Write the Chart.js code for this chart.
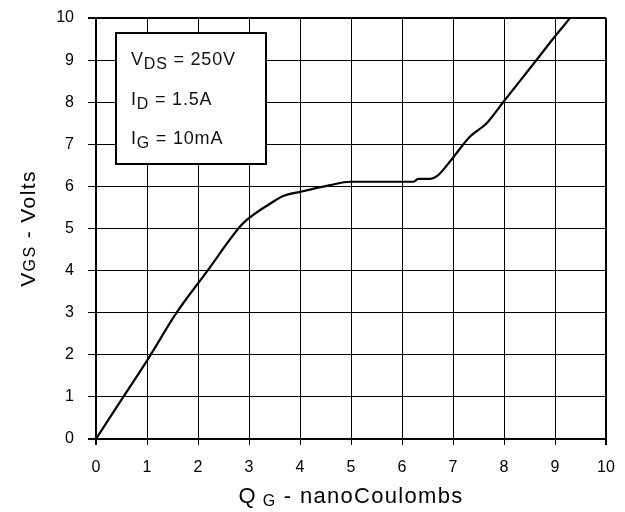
<!DOCTYPE html>
<html>
<head>
<meta charset="utf-8">
<script src="https://cdn.jsdelivr.net/npm/chart.js@4"></script>
<style>
  html, body { margin: 0; padding: 0; background: #fff; }
  #wrap { width: 625px; height: 512px; position: relative; }
</style>
</head>
<body>
<div id="wrap"><canvas id="c" width="625" height="512"></canvas></div>
<script>
// Gate charge (nC) and gate-source voltage (V)
const gateCharge = [0, 0.535, 1.01, 1.58, 2.17, 2.82, 2.95, 3.48, 3.67, 4.0, 4.59, 4.98, 6.22, 6.32, 6.54, 6.71, 6.94, 7.33, 7.66, 7.99, 8.61, 8.97, 9.29];
const gateVoltage = [0, 1.0, 1.88, 3.0, 3.97, 5.04, 5.2, 5.64, 5.77, 5.87, 6.03, 6.11, 6.11, 6.18, 6.18, 6.27, 6.59, 7.18, 7.5, 8.01, 8.96, 9.52, 9.99];
const xTickValues = [0, 1, 2, 3, 4, 5, 6, 7, 8, 9, 10];
const yTickValues = [0, 1, 2, 3, 4, 5, 6, 7, 8, 9, 10];
const xTitleParts = [["Q", false], [" G", true], [" - nanoCoulombs", false]];
const yTitleParts = [["V", false], ["GS", true], [" - Volts", false]];
const conditionLines = [
  [["V", false], ["DS", true], [" = 250V", false]],
  [["I", false], ["D", true], [" = 1.5A", false]],
  [["I", false], ["G", true], [" = 10mA", false]]
];

const FONT = '"Liberation Sans", Arial, sans-serif';

const points = gateCharge.map((x, i) => ({ x: x, y: gateVoltage[i] }));

function drawParts(ctx, parts, x, y, mainSize, subSize, subDrop, spacing) {
  ctx.letterSpacing = spacing + 'px';
  let cx = x;
  parts.forEach(([t, sub]) => {
    ctx.font = (sub ? subSize : mainSize) + 'px ' + FONT;
    ctx.fillText(t, cx, y + (sub ? subDrop : 0));
    cx += ctx.measureText(t).width;
  });
  return cx - x;
}
function measureParts(ctx, parts, mainSize, subSize, spacing) {
  ctx.letterSpacing = spacing + 'px';
  let w = 0;
  parts.forEach(([t, sub]) => {
    ctx.font = (sub ? subSize : mainSize) + 'px ' + FONT;
    w += ctx.measureText(t).width;
  });
  return w;
}

const decor = {
  id: 'decor',
  afterDatasetsDraw(chart) {
    const ctx = chart.ctx;
    const a = chart.chartArea;
    ctx.save();
    // condition box
    const bx = 116, by = 33;
    const bw = 150, bh = 131;
    ctx.fillStyle = '#fff';
    ctx.fillRect(bx, by, bw, bh);
    ctx.strokeStyle = '#000';
    ctx.lineWidth = 2;
    ctx.strokeRect(bx, by, bw, bh);
    ctx.fillStyle = '#111';
    ctx.textBaseline = 'alphabetic';
    ctx.textAlign = 'left';
    conditionLines.forEach((parts, i) => {
      drawParts(ctx, parts, bx + 15, by + 32 + i * 39.5, 18, 16, 4, 0.8);
    });
    ctx.restore();

    // x title
    ctx.save();
    ctx.fillStyle = '#000';
    ctx.textBaseline = 'alphabetic';
    const xw = measureParts(ctx, xTitleParts, 22, 16, 1.3);
    drawParts(ctx, xTitleParts, (a.left + a.right) / 2 - xw / 2, 503, 22, 16, 3, 1.3);
    ctx.restore();

    // y title
    ctx.save();
    ctx.fillStyle = '#000';
    ctx.textBaseline = 'alphabetic';
    ctx.translate(35, (a.top + a.bottom) / 2);
    ctx.rotate(-Math.PI / 2);
    const yw = measureParts(ctx, yTitleParts, 21, 16, 1.4);
    drawParts(ctx, yTitleParts, -yw / 2, 0, 21, 16, 0, 1.4);
    ctx.restore();
  }
};

function zeroPad(s) { s.paddingTop = 0; s.paddingBottom = 0; s.paddingLeft = 0; s.paddingRight = 0; }

new Chart(document.getElementById('c'), {
  type: 'line',
  data: {
    datasets: [{
      data: points,
      borderColor: '#000',
      borderWidth: 2.2,
      pointRadius: 0,
      cubicInterpolationMode: 'monotone',
      fill: false
    }]
  },
  options: {
    responsive: false,
    animation: false,
    devicePixelRatio: 1,
    layout: { padding: { left: 0, top: 18, right: 19, bottom: 0 } },
    plugins: { legend: { display: false }, tooltip: { enabled: false } },
    scales: {
      x: {
        type: 'linear',
        min: 0, max: 10,
        afterBuildTicks(s) { s.ticks = xTickValues.map(v => ({ value: v })); },
        afterFit(s) { s.height = 73; zeroPad(s); },
        ticks: { color: '#000', font: { family: FONT, size: 16 }, padding: 13, maxRotation: 0 },
        grid: {
          color: '#000',
          lineWidth: c => (c.tick && (c.tick.value === 10 || c.tick.value === 0)) ? 2 : 1,
          tickLength: 6
        },
        border: { color: '#000', width: 2 }
      },
      y: {
        type: 'linear',
        min: 0, max: 10,
        afterBuildTicks(s) { s.ticks = yTickValues.map(v => ({ value: v })); },
        afterFit(s) { s.width = 96; zeroPad(s); },
        ticks: { color: '#000', font: { family: FONT, size: 16 }, padding: 14 },
        grid: {
          color: '#000',
          lineWidth: c => (c.tick && (c.tick.value === 10 || c.tick.value === 0)) ? 2 : 1,
          tickLength: 8
        },
        border: { color: '#000', width: 2 }
      }
    }
  },
  plugins: [decor]
});
</script>
</body>
</html>
